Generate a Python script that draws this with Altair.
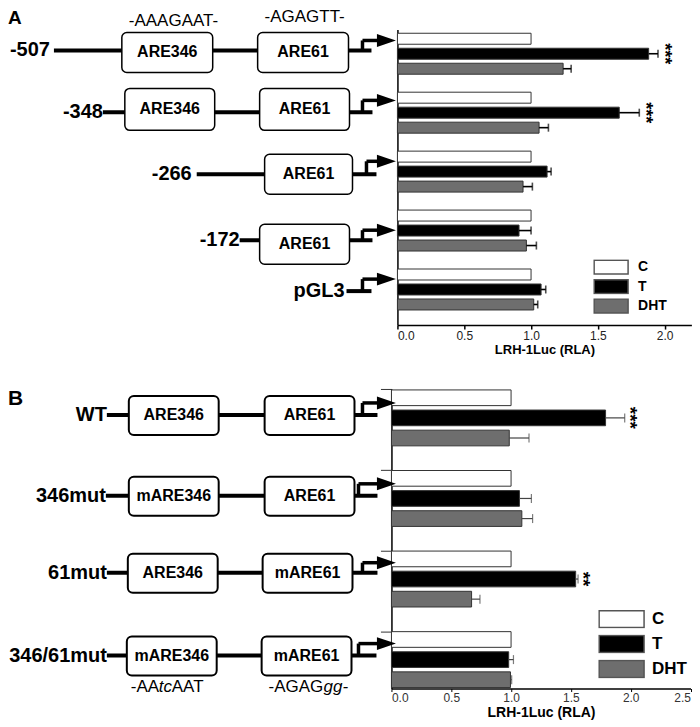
import altair as alt
import pandas as pd

FONT = "Liberation Sans"
series = ["C", "T", "DHT"]
fills = ["#ffffff", "#000000", "#6e6e6e"]

# ---------------- Panel A data ----------------
groups_a = ["-507", "-348", "-266", "-172", "pGL3"]
a_c = [1.0, 1.0, 1.0, 1.0, 1.0]
a_t = [1.88, 1.66, 1.12, 0.91, 1.075]
a_t_err = [0.07, 0.15, 0.03, 0.09, 0.035]
a_dht = [1.24, 1.06, 0.94, 0.965, 1.02]
a_dht_err = [0.06, 0.07, 0.07, 0.075, 0.03]
a_stars = ["***", "***", "", "", ""]
a_ticks = [0.0, 0.5, 1.0, 1.5, 2.0]

# ---------------- Panel B data ----------------
groups_b = ["WT", "346mut", "61mut", "346/61mut"]
b_c = [1.0, 1.0, 1.0, 1.0]
b_t = [1.79, 1.07, 1.54, 0.98]
b_t_err = [0.16, 0.10, 0.02, 0.04]
b_dht = [0.985, 1.09, 0.67, 0.995]
b_dht_err = [0.165, 0.09, 0.07, 0.01]
b_stars = ["***", "", "**", ""]
b_ticks = [0.0, 0.5, 1.0, 1.5, 2.0, 2.5]

# ---------------- Promoter schematic (pixel units of the drawing) ----------------
row_names = groups_a + groups_b
row_line_y = [41, 103, 165, 231, 282, 406, 487, 564, 647]
row_line_x1 = [46, 95, 189, 232, 339, 99, 98, 99, 99]
row_line_x2 = [364, 365, 369, 365, 364, 370, 370, 370, 369]
row_label_x = [42, 95, 184, 232, 337, 99, 98, 99, 99]
row_label_size = [20, 20, 20, 20, 20, 20, 20, 20, 20]
arrow_vx = [355, 355, 359, 355, 355, 355, 351, 355, 351]
arrow_y = [31, 91, 152, 221, 270, 394, 475, 554, 635]
arrow_hx2 = [371] * 9
arrow_head_x = [379] * 9

box_text = ["ARE346", "ARE61", "ARE346", "ARE61", "ARE61", "ARE61",
            "ARE346", "ARE61", "mARE346", "ARE61", "ARE346", "mARE61", "mARE346", "mARE61"]
box_x1 = [114, 250, 117, 252, 257, 252, 121, 257, 121, 257, 120, 255, 119, 254]
box_x2 = [205, 341, 207, 342, 345, 342, 211, 347, 211, 347, 210, 345, 209, 344]
box_y1 = [23, 23, 79, 79, 145, 215, 387, 387, 468, 468, 545, 545, 628, 628]
box_y2 = [63, 63, 121, 121, 185, 255, 426, 426, 507, 507, 584, 584, 667, 667]
box_sw = [1.5] * 6 + [2.0] * 8

seq_text = ["-AAAGAAT-", "-AGAGTT-", "-AA", "tc", "AAT", "-AGAG", "gg-"]
seq_x = [121, 257, 123, 151, 164, 261, 316]
seq_y = [4, 0, 670, 670, 670, 670, 670]
seq_italic = [False, False, False, True, False, False, True]

panel_letters = ["A", "B"]
panel_x = [0, 0]
panel_y = [0, 379]
panel_size = [19, 21]

# ---------------- helpers ----------------
def long_df(groups, c, t, t_err, dht, dht_err, stars):
    rows = []
    for i, g in enumerate(groups):
        rows.append(dict(group=g, series="C", value=c[i], err=0.0, star=""))
        rows.append(dict(group=g, series="T", value=t[i], err=t_err[i], star=stars[i]))
        rows.append(dict(group=g, series="DHT", value=dht[i], err=dht_err[i], star=""))
    df = pd.DataFrame(rows)
    df["hi"] = df["value"] + df["err"]
    return df


def panel(df, groups, xdom, xrange, xaxis_kw, yrange, pin, pout, palign, opin,
          yaxis_kw, legend_kw, err_color, err_w, cap_size, star_size, star_dy):
    xscale = alt.Scale(domain=xdom, range=xrange, nice=False, zero=True)
    xaxis = alt.Axis(**xaxis_kw)

    def X(f):
        return alt.X(f"{f}:Q", scale=xscale, axis=xaxis)

    yenc = alt.Y("group:N", sort=groups,
                 scale=alt.Scale(domain=groups, range=yrange, paddingInner=pin,
                                 paddingOuter=pout, align=palign),
                 axis=alt.Axis(**yaxis_kw))
    yoff = alt.YOffset("series:N", sort=series,
                       scale=alt.Scale(domain=series, paddingInner=opin, paddingOuter=0))
    base = alt.Chart(df)
    bars = base.mark_bar(stroke="#333333", strokeWidth=1).encode(
        x=X("value"), y=yenc, yOffset=yoff,
        fill=alt.Fill("series:N", sort=series,
                      scale=alt.Scale(domain=series, range=fills),
                      legend=alt.Legend(**legend_kw)),
    )
    errs = base.transform_filter("datum.err > 0")
    rule = errs.mark_rule(color=err_color, strokeWidth=err_w).encode(
        x=X("value"), x2="hi:Q", y=yenc, yOffset=yoff)
    caps = errs.mark_tick(orient="vertical", size=cap_size, thickness=err_w,
                          color=err_color).encode(x=X("hi"), y=yenc, yOffset=yoff)
    stars = base.transform_filter("datum.star != ''").mark_text(
        angle=90, align="center", baseline="middle", font=FONT, fontWeight="bold",
        fontSize=star_size, dy=star_dy, color="black").encode(
        x=X("hi"), y=yenc, yOffset=yoff, text="star:N")
    return alt.layer(bars, rule, caps, stars)


df_a = long_df(groups_a, a_c, a_t, a_t_err, a_dht, a_dht_err, a_stars)
df_b = long_df(groups_b, b_c, b_t, b_t_err, b_dht, b_dht_err, b_stars)

layer_a = panel(
    df_a, groups_a, [0, 2.2], [390, 684.4],
    dict(orient="bottom", offset=-364, values=a_ticks, format=".1f", labelFontSize=12,
         labelFont=FONT, labelColor="#222222", tickSize=4, tickColor="black", tickWidth=1.5,
         domainColor="black", domainWidth=1.5, labelPadding=1, title="LRH-1Luc (RLA)",
         titleFont=FONT, titleFontSize=13, titleFontWeight="bold", titlePadding=2,
         titleColor="black", grid=False),
    [20, 316], 0.305, 0.16, 0.2, 0.267,
    dict(orient="left", offset=-390, labels=False, ticks=False, domainColor="black",
         domainWidth=1.5, title=None, grid=False),
    dict(title=None, orient="none", legendX=586, legendY=250,
         symbolType="M-1,-0.41H1V0.41H-1Z", symbolSize=1156, symbolStrokeColor="#555555",
         symbolStrokeWidth=1.5, labelFontSize=14, labelFontWeight="bold", labelFont=FONT,
         labelColor="black", labelOffset=9, clipHeight=16, rowPadding=3.5, padding=0),
    "black", 1.6, 8, 18, -6,
)

layer_b = panel(
    df_b, groups_b, [0, 2.5], [384, 683.5],
    dict(orient="bottom", offset=0, values=b_ticks, format=".1f", labelFontSize=12,
         labelFont=FONT, labelColor="#333333", tickSize=3, tickColor="black", tickWidth=1,
         domainColor="black", domainWidth=1.5, labelPadding=1, title="LRH-1Luc (RLA)",
         titleFont=FONT, titleFontSize=14, titleFontWeight="bold", titlePadding=2,
         titleColor="black", grid=False),
    [380, 680], 0.306, 0.012, 0.5, 0.22,
    dict(orient="left", offset=-384, labels=False, ticks=True, tickSize=11, bandPosition=0,
         tickColor="#333333", tickWidth=1, domainColor="black", domainWidth=1.5,
         title=None, grid=False),
    dict(title=None, orient="none", legendX=591, legendY=601,
         symbolType="M-1,-0.378H1V0.378H-1Z", symbolSize=2025, symbolStrokeColor="#555555",
         symbolStrokeWidth=1.5, labelFontSize=17, labelFontWeight="bold", labelFont=FONT,
         labelColor="black", labelOffset=7, clipHeight=19, rowPadding=6, padding=0),
    "#444444", 1.2, 9, 19, -5,
)

# ---------------- schematic layers ----------------
dxs = alt.Scale(domain=[0, 684], nice=False, zero=False)
dys = alt.Scale(domain=[0, 680], reverse=True, nice=False, zero=False)


def DX(f):
    return alt.X(f"{f}:Q", scale=dxs, axis=None)


def DY(f):
    return alt.Y(f"{f}:Q", scale=dys, axis=None)


rows_df = pd.DataFrame(dict(name=row_names, ly=row_line_y, lx1=row_line_x1, lx2=row_line_x2,
                            labx=row_label_x, fs=row_label_size, vx=arrow_vx, ay=arrow_y,
                            hx2=arrow_hx2, hx=arrow_head_x))
boxes_df = pd.DataFrame(dict(text=box_text, x1=box_x1, x2=box_x2, y1=box_y1, y2=box_y2, sw=box_sw))
boxes_df["cx"] = (boxes_df["x1"] + boxes_df["x2"]) / 2
boxes_df["cy"] = (boxes_df["y1"] + boxes_df["y2"]) / 2
seq_df = pd.DataFrame(dict(text=seq_text, x=seq_x, y=seq_y, italic=seq_italic))
letters_df = pd.DataFrame(dict(text=panel_letters, x=panel_x, y=panel_y, fs=panel_size))

lines = alt.Chart(rows_df).mark_rule(color="black", strokeWidth=4).encode(
    x=DX("lx1"), x2="lx2:Q", y=DY("ly"))
boxes = alt.Chart(boxes_df).mark_rect(fill="white", stroke="black", cornerRadius=5).encode(
    x=DX("x1"), x2="x2:Q", y=DY("y1"), y2="y2:Q",
    strokeWidth=alt.StrokeWidth("sw:Q", scale=None))
box_labels = alt.Chart(boxes_df).mark_text(font=FONT, fontWeight="bold", fontSize=16,
                                           align="center", baseline="middle",
                                           color="black").encode(
    x=DX("cx"), y=DY("cy"), text="text:N")
row_labels = alt.Chart(rows_df).mark_text(font=FONT, fontWeight="bold", align="right",
                                          baseline="middle", color="black").encode(
    x=DX("labx"), y=DY("ly"), text="name:N", size=alt.Size("fs:Q", scale=None))
arrow_v = alt.Chart(rows_df).mark_rule(color="black", strokeWidth=3.5).encode(
    x=DX("vx"), y=DY("ly"), y2="ay:Q")
arrow_h = alt.Chart(rows_df).mark_rule(color="black", strokeWidth=3.5).encode(
    x=DX("vx"), x2="hx2:Q", y=DY("ay"))
arrow_head = alt.Chart(rows_df).mark_point(shape="M-1,-0.68L1,0L-1,0.68Z", size=361,
                                           filled=True, color="black", opacity=1,
                                           strokeWidth=0).encode(
    x=DX("hx"), y=DY("ay"))
seq_plain = alt.Chart(seq_df).transform_filter("!datum.italic").mark_text(
    font=FONT, fontSize=17, align="left", baseline="top", color="black").encode(
    x=DX("x"), y=DY("y"), text="text:N")
seq_ital = alt.Chart(seq_df).transform_filter("datum.italic").mark_text(
    font=FONT, fontSize=17, fontStyle="italic", align="left", baseline="top",
    color="black").encode(x=DX("x"), y=DY("y"), text="text:N")
letters = alt.Chart(letters_df).mark_text(font=FONT, fontWeight="bold", align="left",
                                          baseline="top", color="black").encode(
    x=DX("x"), y=DY("y"), text="text:N", size=alt.Size("fs:Q", scale=None))

diagram = alt.layer(lines, boxes, box_labels, row_labels, arrow_v, arrow_h, arrow_head,
                    seq_plain, seq_ital, letters)

chart = alt.layer(layer_a, layer_b, diagram).resolve_scale(
    x="independent", y="independent", fill="independent", yOffset="independent"
).properties(width=684, height=680, padding=0).configure(font=FONT).configure_view(strokeWidth=0)

chart.save("out.html", embed_options={"renderer": "svg", "actions": False})
